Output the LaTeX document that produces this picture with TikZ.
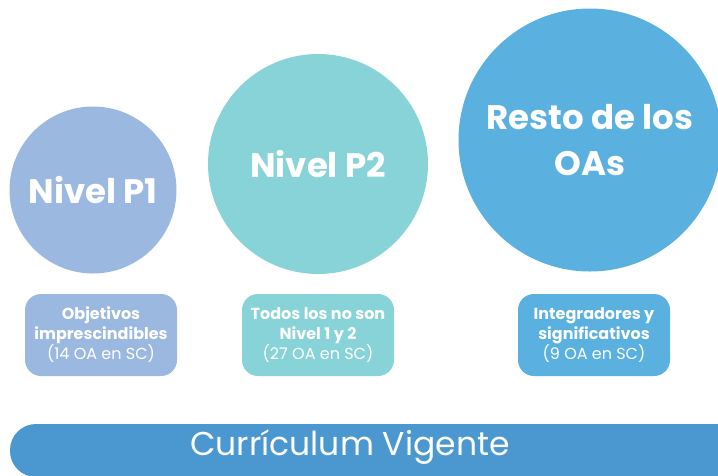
\documentclass[tikz,border=0pt]{standalone}
\usepackage{fontspec}
\setmainfont{Poppins}
\usetikzlibrary{positioning}
\definecolor{lvlone}{HTML}{9BB8E0}
\definecolor{lvltwo}{HTML}{88D3D8}
\definecolor{lvlrest}{HTML}{5AB1E0}
\definecolor{currbar}{HTML}{4B98D1}
\tikzstyle{level} = [circle, inner sep=0pt, text=white, align=center, font=\fontsize{34}{46}\selectfont\bfseries]
\tikzstyle{info} = [rectangle, rounded corners=16pt, minimum width=152pt, minimum height=82pt, inner sep=0pt, text=white, align=center, font=\fontsize{16}{20}\selectfont]
\begin{document}
\begin{tikzpicture}[x=1pt,y=-1pt]
			\useasboundingbox (0,0) rectangle (718,475);
			\clip (0,0) rectangle (718,475);
			\node[level,fill=lvlone,minimum size=167pt] (p1) at (93,190) {Nivel P1};
			\node[level,fill=lvltwo,minimum size=220pt] (p2) at (318,164) {Nivel P2};
			\node[level,fill=lvlrest,minimum size=263pt] (rest) at (590,140) {Resto de los\\OAs};
			\node[info,fill=lvlone] (p1info) at (101,335) {\textbf{Objetivos}\\\textbf{imprescindibles}\\(14 OA en SC)};
			\node[info,fill=lvltwo] (p2info) at (318,335) {\textbf{Todos los no son}\\\textbf{Nivel 1 y 2}\\(27 OA en SC)};
			\node[info,fill=lvlrest] (restinfo) at (594,335) {\textbf{Integradores y}\\\textbf{significativos}\\(9 OA en SC)};
			\node[fill=currbar,rounded corners=26pt,minimum width=740pt,minimum height=53pt,inner sep=0pt] (bar) at (380,450.5) {};
			\node[text=white,font=\fontsize{33}{40}\selectfont] (cv) at (350,447) {Currículum Vigente};
		\end{tikzpicture}
\end{document}
